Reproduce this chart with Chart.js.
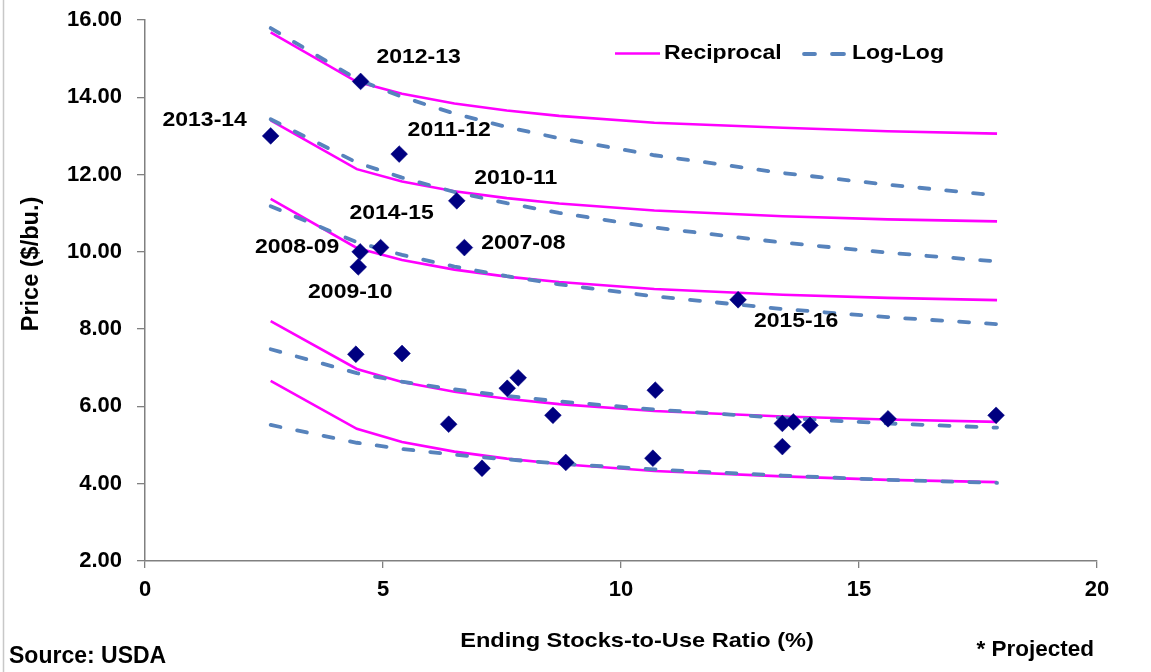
<!DOCTYPE html>
<html>
<head>
<meta charset="utf-8">
<script src="https://cdn.jsdelivr.net/npm/chart.js@4/dist/chart.umd.min.js"></script>
<style>
  html, body { margin: 0; padding: 0; background: #ffffff; }
  #wrap { width: 1151px; height: 672px; position: relative; }
</style>
</head>
<body>
<div id="wrap"><canvas id="c" width="1151" height="672"></canvas></div>
<script>
// ---------------- DATA ----------------
const curveX = [2.64, 4.45, 5.4, 6.5, 7.6, 8.7, 10.7, 13.4, 15.6, 17.9];

const recip1 = [15.68, 14.40, 14.09, 13.84, 13.66, 13.52, 13.34, 13.21, 13.12, 13.06];
const recip2 = [13.40, 12.14, 11.82, 11.57, 11.39, 11.25, 11.07, 10.92, 10.84, 10.79];
const recip3 = [11.37, 10.10, 9.79, 9.54, 9.36, 9.22, 9.04, 8.89, 8.81, 8.75];
const recip4 = [8.21, 6.97, 6.63, 6.38, 6.20, 6.06, 5.88, 5.74, 5.66, 5.60];
const recip5 = [6.66, 5.42, 5.08, 4.83, 4.65, 4.51, 4.33, 4.19, 4.10, 4.04];

const loglog1 = [15.79, 14.47, 14.01, 13.58, 13.23, 12.94, 12.50, 12.04, 11.74, 11.46];
const loglog2 = [13.43, 12.31, 11.92, 11.55, 11.26, 11.01, 10.63, 10.24, 9.98, 9.75];
const loglog3 = [11.18, 10.25, 9.92, 9.62, 9.37, 9.16, 8.85, 8.52, 8.31, 8.13];
const loglog4 = [7.48, 6.86, 6.64, 6.44, 6.27, 6.13, 5.92, 5.70, 5.56, 5.45];
const loglog5 = [5.52, 5.06, 4.90, 4.75, 4.63, 4.52, 4.37, 4.21, 4.10, 4.02];

const stocksToUse = [4.53, 2.64, 5.34, 6.55, 4.95, 4.52, 4.48, 6.71, 12.46,
                     4.43, 5.40, 6.38, 7.08, 7.61, 7.84, 8.57, 8.84,
                     10.72, 10.67, 13.39, 13.62, 13.97, 13.39, 15.61, 17.88];
const prices      = [14.41, 13.00, 12.53, 11.32, 10.11, 10.00, 9.61, 10.11, 8.76,
                     7.35, 7.37, 5.54, 4.40, 6.47, 6.74, 5.77, 4.55,
                     6.42, 4.66, 5.56, 5.60, 5.51, 4.96, 5.68, 5.77];
const yearLabels  = ['2012-13', '2013-14', '2011-12', '2010-11', '2014-15', '2008-09', '2009-10', '2007-08', '2015-16',
                     '', '', '', '', '', '', '', '',
                     '', '', '', '', '', '', '', ''];

const yTicks = [2, 4, 6, 8, 10, 12, 14, 16];
const xTicks = [0, 5, 10, 15, 20];
const legendNames = ['Reciprocal', 'Log-Log'];

// ---------------- STYLE (positions of text labels relative to points) ----------------
const labelOffsets = {
  '2012-13': [58, -24], '2013-14': [-66, -15], '2011-12': [50, -24],
  '2010-11': [59, -22], '2014-15': [11, -34], '2008-09': [-63, -4],
  '2009-10': [-8, 26], '2007-08': [59, -4], '2015-16': [58, 22]
};
const MAGENTA = '#FF00FF';
const BLUE = '#5783BC';
const NAVY = '#000080';
const FONT = '"Liberation Sans", Arial, Helvetica, sans-serif';

const toXY = (ys) => ys.map((y, i) => ({ x: curveX[i], y: y }));

function recipDS(ys) {
  return { type: 'scatter', data: toXY(ys), showLine: true, borderColor: MAGENTA, borderWidth: 2.6,
           pointRadius: 0, pointHoverRadius: 0, fill: false, order: 3, tension: 0 };
}
function logDS(ys) {
  return { type: 'scatter', data: toXY(ys), showLine: true, borderColor: BLUE, borderWidth: 3.8,
           borderDash: [10, 17], borderCapStyle: 'round', pointRadius: 0, pointHoverRadius: 0,
           fill: false, order: 2, tension: 0 };
}

const datasets = [
  recipDS(recip1), recipDS(recip2), recipDS(recip3), recipDS(recip4), recipDS(recip5),
  logDS(loglog1), logDS(loglog2), logDS(loglog3), logDS(loglog4), logDS(loglog5),
  { type: 'scatter', data: stocksToUse.map((x, i) => ({ x: x, y: prices[i] })),
    pointStyle: 'rectRot', pointRadius: 8.4, pointHoverRadius: 8.4,
    backgroundColor: NAVY, borderColor: NAVY, borderWidth: 0.5, showLine: false, order: 1 }
];

function stretchText(ctx, text, x, y, size, align, sx) {
  ctx.save();
  ctx.font = 'bold ' + size + 'px ' + FONT;
  ctx.fillStyle = '#000000';
  ctx.textAlign = align;
  ctx.textBaseline = 'middle';
  ctx.translate(x, y);
  ctx.scale(sx, 1);
  ctx.fillText(text, 0, 0);
  ctx.restore();
}

const decor = {
  id: 'decor',
  beforeDraw(chart) {
    const ctx = chart.ctx;
    ctx.save();
    ctx.fillStyle = '#ffffff';
    ctx.fillRect(0, 0, chart.width, chart.height);
    ctx.strokeStyle = '#c8c8c8';
    ctx.lineWidth = 1.5;
    ctx.beginPath();
    ctx.moveTo(3.5, 0);
    ctx.lineTo(3.5, chart.height);
    ctx.stroke();
    ctx.restore();
  },
  afterDatasetsDraw(chart) {
    const ctx = chart.ctx;
    const meta = chart.getDatasetMeta(datasets.length - 1);
    meta.data.forEach((pt, i) => {
      const lab = yearLabels[i];
      if (!lab) return;
      const off = labelOffsets[lab];
      stretchText(ctx, lab, pt.x + off[0], pt.y + off[1], 20, 'center', 1.15);
    });

    // legend
    ctx.save();
    ctx.lineWidth = 2.6;
    ctx.strokeStyle = MAGENTA;
    ctx.beginPath();
    ctx.moveTo(615, 53.5);
    ctx.lineTo(660, 53.5);
    ctx.stroke();
    ctx.strokeStyle = BLUE;
    ctx.lineWidth = 3.8;
    ctx.lineCap = 'round';
    ctx.beginPath();
    ctx.moveTo(804, 54);
    ctx.lineTo(815, 54);
    ctx.moveTo(832, 54);
    ctx.lineTo(844, 54);
    ctx.stroke();
    ctx.restore();
    stretchText(ctx, legendNames[0], 664, 53, 20, 'left', 1.15);
    stretchText(ctx, legendNames[1], 852, 53, 20, 'left', 1.15);

    // axis titles and notes
    stretchText(ctx, 'Ending Stocks-to-Use Ratio (%)', 637, 641, 20.5, 'center', 1.15);
    stretchText(ctx, '* Projected', 1094, 650, 22.5, 'right', 1.0);
    stretchText(ctx, 'Source: USDA', 9, 657, 23, 'left', 1.0);

    ctx.save();
    ctx.translate(32, 264);
    ctx.rotate(-Math.PI / 2);
    ctx.font = 'bold 23.5px ' + FONT;
    ctx.fillStyle = '#000000';
    ctx.textAlign = 'center';
    ctx.textBaseline = 'middle';
    ctx.fillText('Price ($/bu.)', 0, 0);
    ctx.restore();
  }
};

const chart = new Chart(document.getElementById('c'), {
  type: 'scatter',
  data: { datasets: datasets },
  plugins: [decor],
  options: {
    responsive: false,
    devicePixelRatio: 1,
    animation: false,
    events: [],
    layout: { padding: { left: 0, top: 20, right: 54, bottom: 0 } },
    plugins: { legend: { display: false }, tooltip: { enabled: false } },
    scales: {
      x: {
        type: 'linear', min: xTicks[0], max: xTicks[xTicks.length - 1],
        afterBuildTicks: (s) => { s.ticks = xTicks.map(v => ({ value: v })); },
        afterFit: (s) => { s.height = 111; s.paddingLeft = 0; s.paddingRight = 0; },
        grid: { display: true, drawOnChartArea: false, drawTicks: true, tickLength: 7, color: '#808080', lineWidth: 1.3 },
        border: { display: true, color: '#808080', width: 1.5 },
        ticks: { color: '#000000', padding: 9, maxRotation: 0, autoSkip: false,
                 font: { family: FONT, size: 22, weight: 'bold' } }
      },
      y: {
        type: 'linear', min: yTicks[0], max: yTicks[yTicks.length - 1],
        afterBuildTicks: (s) => { s.ticks = yTicks.map(v => ({ value: v })); },
        afterFit: (s) => { s.width = 145; s.paddingTop = 0; s.paddingBottom = 0; },
        grid: { display: true, drawOnChartArea: false, drawTicks: true, tickLength: 8, color: '#808080', lineWidth: 1.3 },
        border: { display: true, color: '#808080', width: 1.5 },
        ticks: { color: '#000000', padding: 15, autoSkip: false,
                 callback: (v) => Number(v).toFixed(2),
                 font: { family: FONT, size: 22, weight: 'bold' } }
      }
    }
  }
});
</script>
</body>
</html>
